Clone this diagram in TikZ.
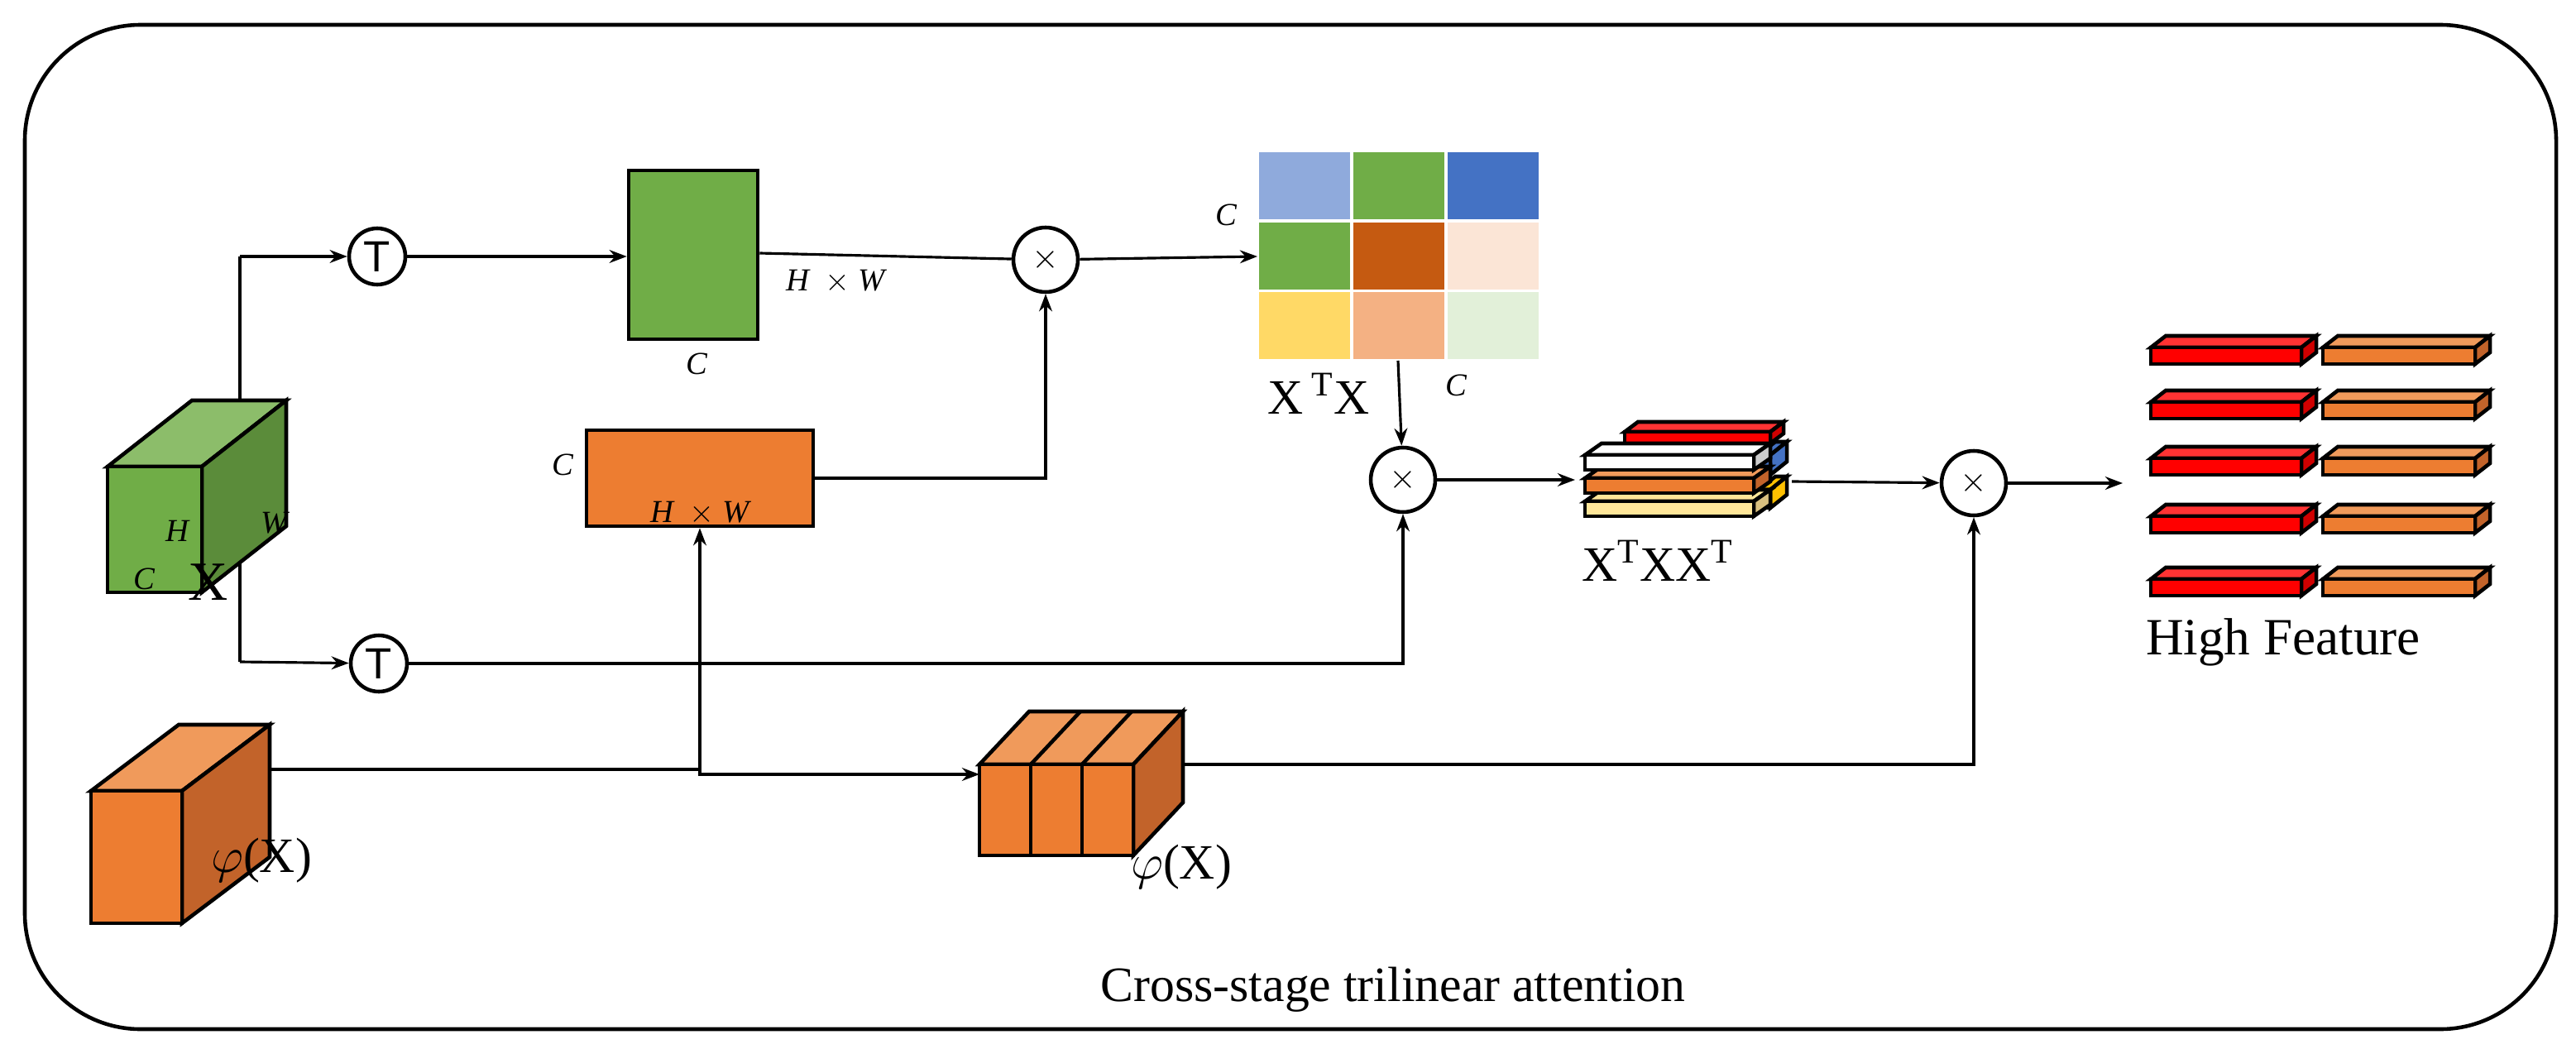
\documentclass[tikz,border=0pt]{standalone}
\usepackage{fontspec}
\setmainfont{Liberation Serif}
\newfontfamily\sansf{Liberation Sans}
\usetikzlibrary{arrows.meta}
\definecolor{gF}{HTML}{70AD47}\definecolor{gT}{HTML}{8CBD6A}\definecolor{gS}{HTML}{5B8C3A}
\definecolor{oF}{HTML}{ED7D31}\definecolor{oT}{HTML}{F09A5B}\definecolor{oS}{HTML}{C2632A}
\definecolor{rF}{HTML}{FF0000}\definecolor{rT}{HTML}{FF3333}\definecolor{rS}{HTML}{D00000}
\definecolor{m1}{HTML}{8FAADC}\definecolor{m3}{HTML}{4472C4}\definecolor{m5}{HTML}{C55A11}
\definecolor{m6}{HTML}{FBE5D6}\definecolor{m7}{HTML}{FFD966}\definecolor{m8}{HTML}{F4B183}\definecolor{m9}{HTML}{E2F0D9}
\definecolor{yF}{HTML}{FFE699}\definecolor{yS}{HTML}{D9C080}
\definecolor{bB}{HTML}{4472C4}\definecolor{yB}{HTML}{FFC000}
% \mybox{x}{y}{w}{h}{dx}{dy}{front}{top}{side} : front face top-left at (x,y)
\newcommand\mybox[9]{%
  \draw[line width=1.3pt,fill=#8] (#1,#2) -- ++(#5,-#6) -- ++(#3,0) -- ++(-#5,#6) -- cycle;
  \draw[line width=1.3pt,fill=#9] (#1+#3,#2) -- ++(#5,-#6) -- ++(0,#4) -- ++(-#5,#6) -- cycle;
  \draw[line width=1.3pt,fill=#7] (#1,#2) rectangle ++(#3,#4);}
\tikzset{
  line/.style={line width=0.9pt},
  arr/.style={line width=0.9pt,-{Stealth[length=6pt,width=4.5pt]}},
  op/.style={circle,draw,line width=1.3pt,minimum size=0.78cm,inner sep=0pt,font=\sansf\fontsize{13}{13}\selectfont},
  tp/.style={circle,draw,line width=1.3pt,minimum size=0.68cm,inner sep=0pt,font=\sansf\fontsize{15}{15}\selectfont},
  dim/.style={font=\itshape\fontsize{11}{11}\selectfont,inner sep=0pt},
  big/.style={font=\fontsize{17}{17}\selectfont,inner sep=0pt},
}
\begin{document}
\begin{tikzpicture}[x=0.02cm,y=-0.02cm]
\useasboundingbox (0,0) rectangle (1557,633.5);
\draw[line width=1.3pt,rounded corners=1.4cm] (15,15) rectangle (1545,622);
% green cube X
\coordinate (xtop) at (145,242);
\coordinate (xbot) at (145,320);
\draw[line] (xtop) -- (145,155) coordinate (xu);
\draw[line] (xbot) -- (145,400) coordinate (xd);
\mybox{65}{282}{57}{76}{51}{40}{gF}{gT}{gS}
\node[dim] at (107,321) {H};
\node[dim] at (166,316) {W};
\node[dim] at (87,350) {C};
\node[big,font=\fontsize{19}{19}\selectfont] at (126,352) {X};
% T circles
\node[tp] (t1) at (228,155) {T};
\node[tp] (t2) at (229,401) {T};
\draw[arr] (xu) -- (t1);
\draw[arr] (xd) -- (t2);
% green rect
\node[draw,line width=1.3pt,fill=gF,minimum width=1.56cm,minimum height=2.04cm,inner sep=0pt] (gr) at (419,154) {};
\draw[arr] (t1) -- (gr.west|-t1);
\node[dim] at (421,220) {C};
\node[dim] at (505,170) {H~~$\times$~W};
% mult 1
\node[op] (m1) at (632,157) {$\times$};
\draw[line] (gr.east|-0,153) -- (m1);
% matrix
\foreach \c [count=\i from 0] in {m1,gF,m3,gF,m5,m6,m7,m8,m9}{
  \pgfmathsetmacro\cx{761+mod(\i,3)*57}
  \pgfmathsetmacro\cy{92+int(\i/3)*42.3}
  \fill[\c] (\cx,\cy) rectangle ++(55,40.5);}
\coordinate (matl) at (760,155);
\coordinate (matb) at (845,218);
\draw[arr] (m1) -- (matl);
\node[dim] at (741,130) {C};
\node[dim] at (880,233) {C};
\node[big] at (797,238) {X\,$^{\mathrm T}$X};
% orange rect
\node[draw,line width=1.3pt,fill=oF,minimum width=2.74cm,minimum height=1.16cm,inner sep=0pt] (or) at (423,289) {};
\node[dim] at (340,281) {C};
\node[dim] at (423,310) {H~~$\times$~W};
\draw[arr] (or.east) -| (m1.south);
% mult 2
\node[op] (m2) at (848,290) {$\times$};
\draw[arr] (matb) -- (m2);
\draw[arr] (t2) -| (m2.south);
% stack X^TXX^T
\coordinate (stl) at (952,290);
\coordinate (str) at (1083,291);
\begin{scope}[line width=1.2pt]
\mybox{982}{261}{88}{7}{8}{6}{rF}{rT}{rS}
\mybox{1063}{275}{7}{12}{10}{8}{bB}{bB}{bB}
\mybox{1063}{296}{7}{11}{10}{8}{yB}{yB}{yB}
\mybox{958}{303}{102}{9}{10}{7}{yF}{yF}{yS}
\mybox{958}{289}{102}{9}{10}{7}{oF}{oT}{oS}
\mybox{958}{275}{102}{9}{10}{7}{white}{white}{gray!40}
\end{scope}
\draw[arr] (m2) -- (stl);
\node[big] at (1002,339) {X$^{\mathrm T}$XX$^{\mathrm T}$};
% mult 3
\node[op] (m3) at (1193,292) {$\times$};
\draw[arr] (str) -- (m3);
\coordinate (hf) at (1283,292);
\draw[arr] (m3) -- (hf);
% High feature bars
\foreach \yy in {210,243,277,312,350}{
  \mybox{1300}{\yy}{91}{10}{9}{7}{rF}{rT}{rS}
  \mybox{1404}{\yy}{92}{10}{9}{7}{oF}{oT}{oS}}
\node[big,font=\fontsize{18}{18}\selectfont] at (1380,388) {High Feature};
% phi cube
\mybox{55}{478}{55}{80}{53}{40}{oF}{oT}{oS}
\node[big] at (158,520) {$\varphi$(X)};
\coordinate (pr) at (163,465);
\coordinate (jn) at (423,465);
\draw[line] (pr) -- (jn);
\draw[arr] (jn) -- (or.south);
% stacked phi cube
\mybox{592}{462}{93}{55}{30}{32}{oF}{oT}{oS}
\foreach \k in {1,2}{
  \draw[line width=1.3pt] (592+\k*31,462) -- ++(0,55);
  \draw[line width=1.3pt] (592+\k*31,462) -- ++(30,-32);}
\coordinate (sl) at (592,468);
\coordinate (sr) at (715,462);
\draw[arr] (jn) |- (sl);
\draw[arr] (sr) -| (m3.south);
\node[big] at (714,524) {$\varphi$(X)};
% title
\node[big] at (842,598) {Cross-stage trilinear attention};
\end{tikzpicture}
\end{document}
